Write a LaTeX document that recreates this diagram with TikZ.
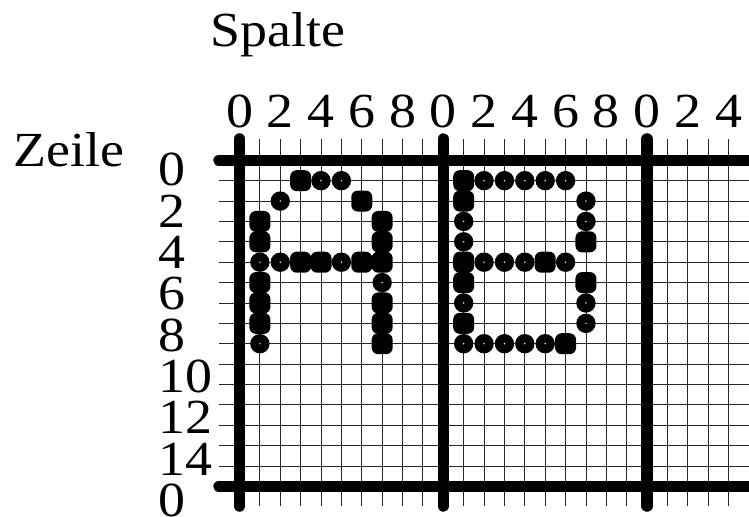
\documentclass[tikz,border=0pt]{standalone}
\usepackage{fontspec}
\setmainfont{Liberation Serif}[FakeStretch=1.1]
\begin{document}
\begin{tikzpicture}[x=1bp,y=-1bp,
  lbl/.style={inner sep=0pt, font=\fontsize{49bp}{49bp}\selectfont},
  gridthin/.style={line width=0.9bp, black!85},
  gridthick/.style={line width=11.5bp, line cap=round, black},
  bigdot/.style={fill=black, rounded corners=6.5bp},
  smalldot/.style={fill=black},
  dotcore/.style={fill=white}]
\useasboundingbox (0,0) rectangle (749,517);
\clip (0,0) rectangle (749,517);
\def\ox{239.5}\def\oy{160.3}\def\p{20.38}
% thin grid
\foreach \c [evaluate=\c as \x using \ox+\p*\c] in {0,...,25}
  \draw[gridthin] (\x,139) -- (\x,506);
\foreach \r [evaluate=\r as \y using \oy+\p*\r] in {1,...,15}
  \draw[gridthin] (219,\y) -- (780,\y);
% thick grid
\foreach \c [evaluate=\c as \x using \ox+\p*\c] in {0,10,20}
  \draw[gridthick] (\x,139) -- (\x,506);
\foreach \r [evaluate=\r as \y using \oy+\p*\r] in {0,16}
  \draw[gridthick] (219,\y) -- (800,\y);
% large dots
\foreach \c/\r [evaluate=\c as \x using \ox+\p*\c-10.5, evaluate=\r as \y using \oy+\p*\r-10.5] in
  {3/1,6/2,1/3,7/3,1/4,7/4,3/5,4/5,6/5,7/5,1/6,1/7,7/7,1/8,7/8,7/9,
   11/1,11/2,17/4,11/5,15/5,11/6,17/6,11/8,16/9}
  \fill[bigdot] (\x,\y) rectangle ++(21,21);
% small dots
\foreach \c/\r [evaluate=\c as \x using \ox+\p*\c, evaluate=\r as \y using \oy+\p*\r] in
  {4/1,5/1,2/2,1/5,2/5,5/5,7/6,1/9,
   12/1,13/1,14/1,15/1,16/1,17/2,11/3,17/3,11/4,12/5,13/5,14/5,16/5,
   11/7,17/7,17/8,11/9,12/9,13/9,14/9,15/9}
  {\fill[smalldot] (\x,\y) circle[radius=9.7bp];
   \fill[dotcore] (\x,\y) circle[radius=0.8bp];}
% labels
\node[lbl, anchor=base west] (spalte) at (210,46.5) {Spalte};
\node[lbl, anchor=base west] (zeile) at (13,166.5) {Zeile};
\foreach \c [evaluate=\c as \x using \ox+\p*\c, evaluate=\c as \d using {int(mod(\c,10))}] in {0,2,...,24}
  \node[lbl, anchor=base] (col\c) at (\x,128) {\d};
\foreach \k [evaluate=\k as \y using 186+20.65*\k] in {0,2,...,14}
  \node[lbl, anchor=base west] (row\k) at (158.5,\y) {\k};
\node[lbl, anchor=base west] (row16) at (158.5,516.4) {0};
\end{tikzpicture}
\end{document}
